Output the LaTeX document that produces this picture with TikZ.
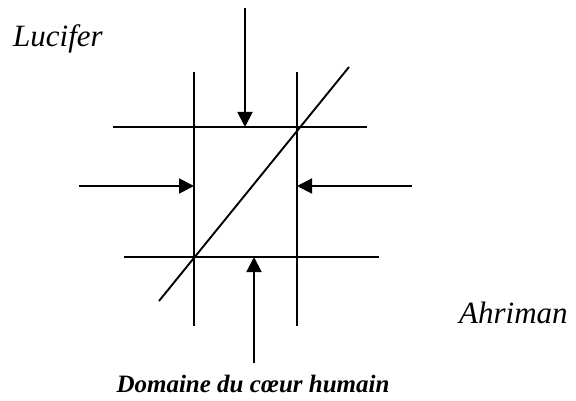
\documentclass[tikz,border=0pt]{standalone}
\usepackage{fontspec}
\setmainfont{Liberation Serif}
\usetikzlibrary{arrows.meta}
\begin{document}
\begin{tikzpicture}[x=1pt, y=-1pt,
  trait/.style={black, line width=1.9pt},
  fleche/.style={trait, -{Triangle[length=15pt, width=15pt]}},
  nom/.style={font=\fontsize{31}{36}\selectfont\itshape, anchor=base west, inner sep=0pt}]
  \useasboundingbox (0,0) rectangle (576,401);
  % --- the square: two verticals, two horizontals, one diagonal ---
  \coordinate (hg) at (113,127); \coordinate (hd) at (367,127);
  \coordinate (bg) at (124,257); \coordinate (bd) at (379,257);
  \coordinate (vg1) at (194,72); \coordinate (vg2) at (194,326);
  \coordinate (vd1) at (297,72); \coordinate (vd2) at (297,326);
  \coordinate (diag1) at (159,301); \coordinate (diag2) at (349,67);
  \draw[trait] (hg) -- (hd);
  \draw[trait] (bg) -- (bd);
  \draw[trait] (vg1) -- (vg2);
  \draw[trait] (vd1) -- (vd2);
  \draw[trait] (diag1) -- (diag2);
  % --- four arrows pressing on the square ---
  \coordinate (haut) at (245,8);   \coordinate (haut-p) at (245,127);
  \coordinate (bas) at (254,363);  \coordinate (bas-p) at (254,257);
  \coordinate (gauche) at (79,186); \coordinate (gauche-p) at (194,186);
  \coordinate (droite) at (412,186); \coordinate (droite-p) at (297,186);
  \draw[fleche] (haut) -- (haut-p);
  \draw[fleche] (bas) -- (bas-p);
  \draw[fleche] (gauche) -- (gauche-p);
  \draw[fleche] (droite) -- (droite-p);
  % --- names ---
  \node[nom] (lucifer) at (13,47) {Lucifer};
  \node[nom] (ahriman) at (459,323) {Ahriman};
  \node[font=\fontsize{25}{30}\selectfont\bfseries\itshape, anchor=base, inner sep=0pt]
    (domaine) at (253,392) {Domaine du cœur humain};
\end{tikzpicture}
\end{document}
